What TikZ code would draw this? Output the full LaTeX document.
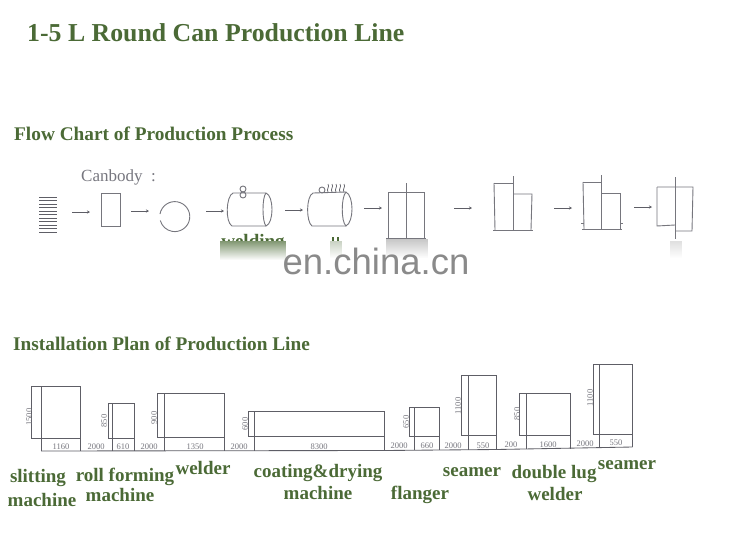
\documentclass[tikz,border=0pt]{standalone}
\usepackage{fontspec}
\setmainfont{Liberation Serif}
\newfontfamily\wmfont{Liberation Sans}
\usetikzlibrary{arrows.meta,fadings}
\definecolor{headgreen}{HTML}{4B6A36}
\definecolor{inkgray}{HTML}{5E5E66}
\definecolor{dimgray}{HTML}{77777F}
\tikzset{
  x=1pt,y=-1pt,
  ink/.style={draw=inkgray,line width=0.85pt},
  sketch/.style={draw=inkgray!85,line width=0.9pt},
  flowarrow/.style={draw=inkgray,line width=0.7pt,-{Stealth[length=3pt,width=3pt]}},
  heading/.style={font=\bfseries\fontsize{19.3}{21}\selectfont,text=headgreen,inner sep=0pt,anchor=west},
  label/.style={font=\bfseries\fontsize{19}{21}\selectfont,text=headgreen,inner sep=0pt},
  dim/.style={font=\fontsize{8.5}{9}\selectfont,text=dimgray,inner sep=0pt},
  rotdim/.style={dim,rotate=90},
}
\newcommand{\machine}[6]{%
  \draw[ink] (#1,#4) -- (#3,#4) -- (#3,#6);
  \draw[ink] (#1,#4) -- (#1,#5) -- (#3,#5);
  \draw[ink] (#2,#4) -- (#2,#6);
}
\newcommand{\flowlink}[3]{%
  \coordinate (#1a) at (#2,#3);
  \coordinate (#1b) at (#2+18,#3);
  \draw[flowarrow] (#1a) -- (#1b);
}
\begin{document}
\begin{tikzpicture}
\useasboundingbox (0,0) rectangle (750,544);
\fill[white] (0,0) rectangle (750,544);
% headings
\node[heading,font=\bfseries\fontsize{25.8}{28}\selectfont] (title) at (27,33) {1-5 L Round Can Production Line};
\node[heading] (flowhead) at (14,134) {Flow Chart of Production Process};
\node[heading] (planhead) at (13,344) {Installation Plan of Production Line};
\node[font=\fontsize{17}{19}\selectfont,text=dimgray,inner sep=0pt,anchor=west] (canbody) at (81,177) {Canbody\ \ :};
% strip stack
\foreach \yy in {197,200.5,...,232}{\draw[inkgray,line width=0.9pt] (39,\yy) -- (57,\yy);}
% flow arrows
\flowlink{a1}{72}{212}
\flowlink{a2}{131}{211}
\flowlink{a3}{206}{211}
\flowlink{a4}{285}{210}
\flowlink{a5}{364}{208}
\flowlink{a6}{454}{208}
\flowlink{a7}{554}{208}
\flowlink{a8}{634}{207}
% blank
\draw[sketch] (101.5,193.5) rectangle (120,226.5);
% rolled
\draw[sketch] (160,214) arc[start angle=190,end angle=525,radius=15];
% cylinder 1
\draw[sketch] (266,193) -- (233,193) .. controls (226,196) and (225,222) .. (232,226) -- (266,226);
\draw[sketch] (266,193) .. controls (274,196) and (274,223) .. (266,226) .. controls (262,222) and (262,197) .. (266,193);
\draw[sketch] (243,189) circle[radius=3];
\draw[sketch] (243,195) circle[radius=3];
% cylinder 2
\draw[sketch] (346,192) -- (313,193) .. controls (306,196) and (306,222) .. (312,226) -- (346,226);
\draw[sketch] (346,192) .. controls (354,196) and (354,222) .. (346,226) .. controls (341,222) and (341,197) .. (346,192);
\draw[sketch] (322,190) circle[radius=3];
\foreach \xx in {328,332,336,340,344}{
  \draw[inkgray,line width=0.7pt] (\xx,192) .. controls (\xx-2,189) and (\xx+2,187) .. (\xx,184);
}
% body
\draw[sketch] (388,238) -- (388,192) -- (424,192) -- (424,238);
\draw[sketch] (406,183) -- (406,240);
\draw[sketch] (386,238) -- (426,238);
% flanged
\draw[sketch] (494,183) -- (513,183);
\draw[sketch] (494,183) -- (495,230);
\draw[sketch] (513,176) -- (513,230);
\draw[sketch] (513,194) -- (532,194) -- (531,230);
\draw[sketch] (493,230) -- (533,230);
% seamed
\draw[sketch] (583,182) -- (601,182);
\draw[sketch] (583,182) -- (584,229);
\draw[sketch] (601,175) -- (601,229);
\draw[sketch] (601,193) -- (620,193) -- (620,229);
\draw[sketch] (582,229) -- (622,229);
\draw[sketch] (581,223) -- (584,223);
\draw[sketch] (620,223) -- (623,223);
% finished
\draw[sketch] (657,187) -- (693,187) -- (692,231) -- (675,231);
\draw[sketch] (657,187) -- (657,226) -- (675,225);
\draw[sketch] (675,177) -- (675,239);
% covered caption and smudges
\begin{scope}
\clip (200,230) rectangle (360,241.5);
\node[label] (weld) at (253,243) {welding};
\end{scope}
\draw[headgreen,line width=1.4pt] (333,237) -- (333,241.5);
\draw[headgreen,line width=1.4pt] (338,237) -- (338,241.5);
\fill[headgreen!70,path fading=south] (220,241) rectangle (286,260);
\fill[headgreen!30,path fading=south] (330,241) rectangle (342,258);
\fill[black!22,path fading=south] (386,239) rectangle (428,258);
\fill[black!12,path fading=south] (670,241) rectangle (682,258);
% watermark
\node[font=\wmfont\fontsize{36.5}{40}\selectfont,text=black!46,inner sep=0pt] (wm) at (376,261) {en.china.cn};
% plan
\machine{31.5}{41}{80}{386}{438}{451}
\machine{108}{112}{134.5}{403}{438}{451}
\machine{157}{164.5}{224}{393}{437}{451}
\machine{248}{254.5}{384.5}{411}{436.5}{450.5}
\machine{409}{414}{439}{407}{436}{450}
\machine{461}{468.5}{496.5}{375}{435}{449.5}
\machine{519.5}{526.5}{570}{393}{435}{448.5}
\machine{593}{599.5}{632.5}{364}{434}{447}
\draw[ink] (41,451) -- (384.5,450.5) -- (496.5,449.5) -- (632.5,447);
% widths
\node[dim] (w1) at (61,447) {1160};
\node[dim] (g1) at (96,447) {2000};
\node[dim] (w2) at (123,447) {610};
\node[dim] (g2) at (149,447) {2000};
\node[dim] (w3) at (195,447) {1350};
\node[dim] (g3) at (239,447) {2000};
\node[dim] (w4) at (319,446.5) {8300};
\node[dim] (g4) at (399,445.5) {2000};
\node[dim] (w5) at (427,445.5) {660};
\node[dim] (g5) at (453,445.5) {2000};
\node[dim] (w6) at (483,445.5) {550};
\node[dim] (g6) at (511,445) {200};
\node[dim] (w7) at (548,445) {1600};
\node[dim] (g7) at (585,444) {2000};
\node[dim] (w8) at (616,443) {550};
% heights
\node[rotdim] (h1) at (29,417) {1500};
\node[rotdim] (h2) at (104,421) {850};
\node[rotdim] (h3) at (154,418) {900};
\node[rotdim] (h4) at (245,424) {600};
\node[rotdim] (h5) at (406,422) {650};
\node[rotdim] (h6) at (458,406) {1100};
\node[rotdim] (h7) at (517,414) {850};
\node[rotdim] (h8) at (590,398) {1100};
% machine names
\node[label] (l1a) at (38,478) {slitting};
\node[label] (l1b) at (42,500) {machine};
\node[label] (l2a) at (125,476.5) {roll forming};
\node[label] (l2b) at (120,495) {machine};
\node[label] (l3) at (203,468) {welder};
\node[label] (l4a) at (318,472.5) {coating\&drying};
\node[label] (l4b) at (318,493) {machine};
\node[label] (l5) at (420,494.5) {flanger};
\node[label] (l6) at (472,472) {seamer};
\node[label] (l7a) at (554,473.5) {double lug};
\node[label] (l7b) at (555,494) {welder};
\node[label] (l8) at (627,465) {seamer};
\end{tikzpicture}
\end{document}
